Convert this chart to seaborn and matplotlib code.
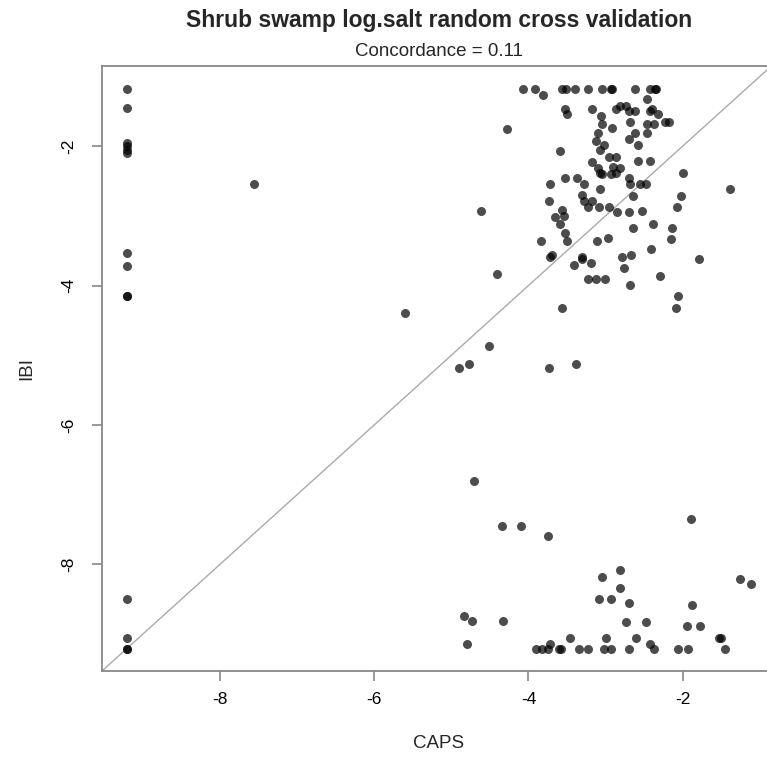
import matplotlib
matplotlib.use("Agg")
import matplotlib.pyplot as plt
import seaborn as sns
import pandas as pd

# Observed (CAPS) vs predicted (IBI) log salt values
caps = [
    # left column at the detection floor
    -9.21, -9.21, -9.21, -9.21, -9.21, -9.21, -9.21, -9.21, -9.21, -9.21, -9.21, -9.21,
    -9.21, -9.21,
    # top row
    -4.07, -3.91, -3.57, -3.51, -3.39, -3.23, -3.04, -2.93, -2.92, -2.62, -2.43, -2.36, -2.34,
    # upper cluster
    -3.81, -2.46, -3.52, -3.17, -2.86, -2.81, -2.73, -2.69, -2.62, -2.42, -2.40, -2.32,
    -3.50, -3.06, -3.05, -2.92, -2.68, -2.46, -2.37, -2.23, -2.18, -4.28, -3.10, -2.62,
    -2.46, -2.70, -3.13, -3.02, -2.58, -3.59, -3.07, -2.95, -2.86, -3.18, -2.58, -2.43,
    -3.10, -2.91, -2.81, -3.07, -3.05, -2.93, -2.87, -2.00, -3.53, -3.37, -2.70, -3.72,
    -3.28, -2.68, -2.56, -2.48, -1.39, -3.07, -2.65, -2.02, -3.31, -3.73, -3.28, -3.18,
    -4.61, -3.56, -3.23, -3.08, -2.95, -2.08, -2.85, -2.69, -2.53, -3.54, -3.66, -3.59,
    -2.39, -2.65, -2.14, -3.53, -2.15, -3.84, -3.50, -3.11, -2.97, -2.41, -3.69, -3.72,
    -3.31, -2.79, -2.67, -1.79, -3.41, -3.19, -3.30, -2.76, -4.41, -2.30, -3.23, -3.13,
    -3.01, -2.68, -2.06, -2.09, -3.57, -4.51,
    # middle band
    -7.56, -5.60, -4.90, -4.77, -3.73, -3.38, -4.70, -4.34, -4.10, -3.75, -1.89,
    # lower cluster
    -3.05, -2.81, -2.81, -3.08, -2.93, -2.69, -1.26, -1.11, -1.88, -4.83, -4.73, -4.33,
    -2.73, -2.47, -1.95, -1.77, -4.80, -3.46, -2.99, -2.60, -1.53, -1.50, -3.72, -2.43,
    # bottom row
    -3.90, -3.83, -3.75, -3.60, -3.58, -3.35, -3.23, -3.02, -2.93, -2.69, -2.37, -2.06,
    -1.93, -1.45,
]
ibi = [
    -1.18, -1.45, -1.95, -2.00, -2.05, -2.10, -3.54, -3.72, -4.15, -4.15, -8.49, -9.06,
    -9.21, -9.21,
    -1.18, -1.18, -1.18, -1.18, -1.18, -1.18, -1.18, -1.18, -1.18, -1.18, -1.18, -1.18, -1.18,
    -1.26, -1.33, -1.46, -1.46, -1.46, -1.43, -1.42, -1.50, -1.50, -1.50, -1.46, -1.54,
    -1.54, -1.57, -1.68, -1.74, -1.66, -1.68, -1.68, -1.66, -1.66, -1.75, -1.81, -1.81,
    -1.81, -1.90, -1.92, -1.98, -1.99, -2.07, -2.06, -2.15, -2.15, -2.23, -2.22, -2.22,
    -2.31, -2.30, -2.32, -2.39, -2.40, -2.40, -2.39, -2.39, -2.46, -2.46, -2.46, -2.55,
    -2.55, -2.55, -2.55, -2.55, -2.62, -2.62, -2.71, -2.71, -2.70, -2.78, -2.78, -2.78,
    -2.93, -2.92, -2.87, -2.87, -2.87, -2.87, -2.95, -2.95, -2.93, -3.00, -3.02, -3.11,
    -3.11, -3.18, -3.18, -3.24, -3.33, -3.36, -3.36, -3.36, -3.32, -3.48, -3.56, -3.59,
    -3.59, -3.59, -3.56, -3.62, -3.70, -3.67, -3.62, -3.75, -3.83, -3.86, -3.91, -3.91,
    -3.91, -3.99, -4.15, -4.32, -4.32, -4.87,
    -2.54, -4.40, -5.19, -5.12, -5.19, -5.12, -6.81, -7.45, -7.45, -7.60, -7.35,
    -8.18, -8.08, -8.34, -8.49, -8.49, -8.56, -8.21, -8.28, -8.59, -8.74, -8.81, -8.81,
    -8.82, -8.82, -8.89, -8.89, -9.14, -9.05, -9.05, -9.05, -9.05, -9.06, -9.14, -9.14,
    -9.21, -9.21, -9.21, -9.21, -9.21, -9.21, -9.21, -9.21, -9.21, -9.21, -9.21, -9.21,
    -9.21, -9.21,
]
x_ticks = [-8, -6, -4, -2]
y_ticks = [-8, -6, -4, -2]
title = "Shrub swamp log.salt random cross validation"
subtitle = "Concordance = 0.11"

df = pd.DataFrame({"CAPS": caps, "IBI": ibi})

sns.set_style("white")
plt.rcParams["font.family"] = ["Liberation Sans", "DejaVu Sans"]

W, H = 767, 765
fig = plt.figure(figsize=(W / 100, H / 100), dpi=100)
# plot region runs slightly past the right edge of the canvas
ax = fig.add_axes([101.7 / W, (H - 671) / H, (776 - 101.7) / W, (671 - 65.5) / H])

xlo, xhi = -9.534, -0.79
ylo, yhi = -9.53, -0.843
ax.set_xlim(xlo, xhi)
ax.set_ylim(ylo, yhi)

# 1:1 reference line
ax.axline((0, 0), slope=1, color="#aaaaaa", lw=1.0, zorder=1)

sns.scatterplot(data=df, x="CAPS", y="IBI", ax=ax, color="black", alpha=0.7,
                s=42, linewidth=0, zorder=2)

for sp in ax.spines.values():
    sp.set_color("#888888")
    sp.set_linewidth(1.3)

ax.set_xticks(x_ticks)
ax.set_yticks(y_ticks)
ax.set_xticklabels([str(v) for v in x_ticks])
ax.set_yticklabels([str(v) for v in y_ticks], rotation=90, va="center")
ax.tick_params(axis="x", pad=8)
ax.tick_params(axis="y", pad=11)
ax.tick_params(axis="both", direction="out", length=7, width=1.2, color="#888888",
               labelsize=12.5, labelcolor="black", bottom=True, left=True)

ax.set_xlabel("CAPS", fontsize=13.5, labelpad=20)
ax.set_ylabel("IBI", fontsize=13.5, labelpad=19)

cx = (101.7 + 776) / 2 / W
fig.text(cx, 1 - 20 / H, title, ha="center", va="center", fontsize=16.5,
         fontweight="bold")
fig.text(cx, 1 - 52 / H, subtitle, ha="center", va="center", fontsize=13.5)

fig.savefig("out.png", dpi=100)
